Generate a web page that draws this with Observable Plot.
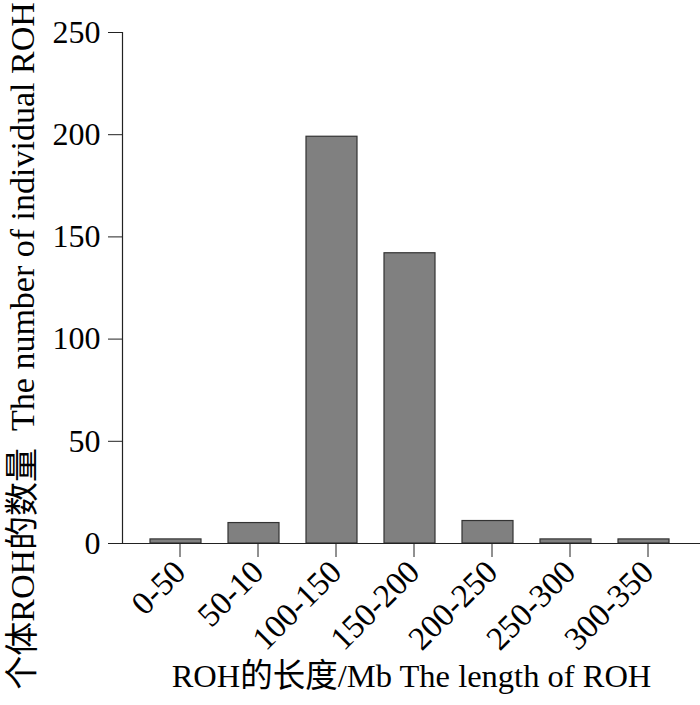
<!DOCTYPE html>
<html><head><meta charset="utf-8">
<script src="https://cdn.jsdelivr.net/npm/d3@7"></script>
<script src="https://cdn.jsdelivr.net/npm/@observablehq/plot@0.6"></script>
<style>body{margin:0;background:#fff}</style>
</head><body><div id="chart"></div>
<script>
const categories = ["0-50","50-10","100-150","150-200","200-250","250-300","300-350"];
const counts = [2, 10, 199, 142, 11, 2, 2];
const yTicks = [0, 50, 100, 150, 200, 250];
const xTitle = "ROH的长度/Mb The length of ROH";
const yTitle = "个体ROH的数量  The number of individual ROH";

const data = categories.map((c, i) => ({c, n: counts[i]}));
const font = "'Liberation Serif', 'Times New Roman', 'Noto Sans CJK SC', serif";

const chart = Plot.plot({
  width: 700, height: 705,
  marginLeft: 122, marginRight: 0, marginTop: 32, marginBottom: 162,
  style: {fontFamily: font, fontSize: "32px", color: "#000", background: "#fff"},
  x: {domain: categories, range: [134.75, 684.25], paddingInner: 0.34, paddingOuter: 0.17, align: 0.5},
  y: {domain: [0, 250]},
  marks: [
    Plot.barY(data, {x: "c", y: "n", fill: "#808080", stroke: "#333", strokeWidth: 1.2}),
    Plot.ruleY([0], {stroke: "#222", strokeWidth: 1.2}),
    Plot.frame({anchor: "left", stroke: "#222", strokeWidth: 1.2}),
    Plot.axisY({ticks: yTicks, tickSize: 14, tickPadding: 8, label: null, stroke: "#222", fontSize: 32}),
    Plot.axisX({tickRotate: -45, tickSize: 14, tickPadding: 9, dx: 4, label: null, stroke: "#222", fontSize: 33}),
    Plot.text([yTitle], {frameAnchor: "left", textAnchor: "middle", rotate: -90, dx: -99, dy: 58, fontSize: 34, fill: "#000"}),
    Plot.text([xTitle], {frameAnchor: "bottom", textAnchor: "middle", dy: 143, fontSize: 32.5, fill: "#000"})
  ]
});
document.getElementById("chart").append(chart);
</script>
</body></html>
